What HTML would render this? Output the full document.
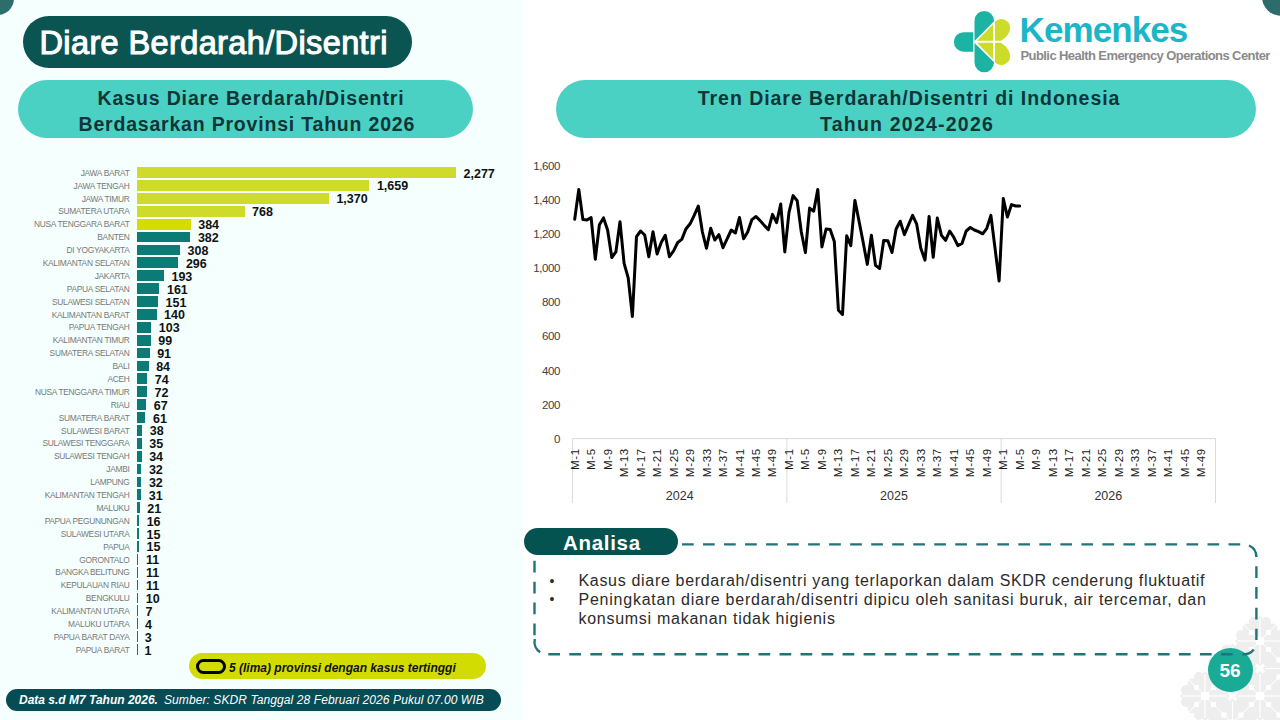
<!DOCTYPE html>
<html><head><meta charset="utf-8">
<style>
*{margin:0;padding:0;box-sizing:border-box}
html,body{width:1280px;height:720px;overflow:hidden;background:#fff;font-family:"Liberation Sans",sans-serif}
.abs{position:absolute}
#leftbg{position:absolute;left:0;top:0;width:525px;height:720px;background:linear-gradient(90deg,#f4fffe 0,#f4fffe 521px,#fff 525px)}
.pill{position:absolute;border-radius:40px}
.bl{position:absolute;left:0;width:129.5px;text-align:right;font-size:8.4px;color:#787878;height:10.8px;line-height:10.8px;letter-spacing:-0.3px;white-space:nowrap}
.bb{position:absolute;left:136.9px;height:10.8px}
.bv{position:absolute;font-size:12.5px;font-weight:bold;color:#111;height:10.8px;line-height:10.8px;white-space:nowrap}
.yl{position:absolute;left:520px;width:40px;text-align:right;font-size:11.5px;color:#404040;line-height:16px;letter-spacing:-0.4px}
.xl{position:absolute;top:488.2px;width:40px;height:14px;line-height:14px;text-align:right;font-size:11.5px;color:#1a1a1a;transform-origin:0 0;transform:rotate(-90deg) translateY(-7px);letter-spacing:0.75px}
.hd{position:absolute;font-size:19.5px;font-weight:bold;color:#0f3537;line-height:24px;white-space:nowrap}
.yr{position:absolute;top:487.5px;width:100px;text-align:center;font-size:12.5px;color:#333;line-height:16px}
</style></head><body>
<div id="leftbg"></div>
<!-- corner circles -->
<div class="abs" style="left:-19.5px;top:-18.5px;width:33px;height:33px;border-radius:50%;background:#2b6e6c"></div>
<div class="abs" style="left:1262px;top:-22px;width:40px;height:38px;border-radius:50%;background:#2d6c6a"></div>

<!-- title -->
<div class="pill" style="left:23px;top:16px;width:389px;height:52px;background:#0a5451;border-radius:26px"></div>
<div class="abs" style="left:39.5px;top:22.7px;font-size:32.5px;font-weight:normal;-webkit-text-stroke:1.1px #fff;color:#fff;line-height:40px;white-space:nowrap;letter-spacing:0.38px">Diare Berdarah/Disentri</div>

<!-- left subtitle pill -->
<div class="pill" style="left:18px;top:80px;width:455px;height:58px;background:#4bd1c4;border-radius:29px"></div>
<div class="hd" style="left:97.5px;top:86px;letter-spacing:0.87px">Kasus Diare Berdarah/Disentri</div>
<div class="hd" style="left:78.5px;top:112px;letter-spacing:0.8px">Berdasarkan Provinsi Tahun 2026</div>

<!-- right header pill -->
<div class="pill" style="left:556px;top:80px;width:700px;height:58px;background:#4bd1c4;border-radius:29px"></div>
<div class="hd" style="left:697.8px;top:86px;letter-spacing:0.95px">Tren Diare Berdarah/Disentri di Indonesia</div>
<div class="hd" style="left:820px;top:112px;letter-spacing:1.22px">Tahun 2024-2026</div>

<!-- logo -->
<svg class="abs" style="left:950px;top:8px" width="70" height="70" viewBox="950 8 70 70">
  <path d="M973.3 32.2 H963.6 A9.75 9.75 0 0 0 963.6 51.7 H973.3 Z" fill="#1cb3a3"/>
  <path d="M974.5 41 L974.5 20.7 A9.75 9.75 0 0 1 994 20.7 L994 21.3 Z" fill="#1cb3a3"/>
  <path d="M974.5 43 L974.5 62.5 A9.75 9.75 0 0 0 994 62.5 L994 62.2 Z" fill="#1cb3a3"/>
  <path d="M977 40.7 L993.2 24.3 L993.2 40.7 Z" fill="#cddb2b"/>
  <path d="M977 42.7 L993.2 59.2 L993.2 42.7 Z" fill="#cddb2b"/>
  <path d="M995 40.7 L995 21.5 A9 9 0 0 1 1010.2 28 Q1009.8 35.5 1001 40.7 Z" fill="#cddb2b"/>
  <path d="M995 42.7 L995 62.5 A9 9 0 0 0 1010.2 56 Q1009.8 48.5 1001 42.7 Z" fill="#cddb2b"/>
</svg>
<div class="abs" style="left:1019.5px;top:11px;font-size:35px;font-weight:bold;color:#1cb6c9;line-height:38px;letter-spacing:-0.9px">Kemenkes</div>
<div class="abs" style="left:1020.5px;top:47.7px;font-size:13px;font-weight:bold;color:#8a8a8a;line-height:16px;white-space:nowrap;letter-spacing:-0.58px">Public Health Emergency Operations Center</div>

<!-- bar chart -->
<div class="bl" style="top:167.80px">JAWA BARAT</div>
<div class="bb" style="top:167.20px;width:319.10px;background:#cfdb2a"></div>
<div class="bv" style="top:168.60px;left:463.50px">2,277</div>
<div class="bl" style="top:180.69px">JAWA TENGAH</div>
<div class="bb" style="top:180.09px;width:232.49px;background:#cfdb2a"></div>
<div class="bv" style="top:181.49px;left:376.89px">1,659</div>
<div class="bl" style="top:193.58px">JAWA TIMUR</div>
<div class="bb" style="top:192.98px;width:191.99px;background:#cfdb2a"></div>
<div class="bv" style="top:194.38px;left:336.39px">1,370</div>
<div class="bl" style="top:206.47px">SUMATERA UTARA</div>
<div class="bb" style="top:205.87px;width:107.63px;background:#cfdb2a"></div>
<div class="bv" style="top:207.27px;left:252.03px">768</div>
<div class="bl" style="top:219.36px">NUSA TENGGARA BARAT</div>
<div class="bb" style="top:218.76px;width:53.81px;background:#d3dc05"></div>
<div class="bv" style="top:220.16px;left:198.21px">384</div>
<div class="bl" style="top:232.25px">BANTEN</div>
<div class="bb" style="top:231.65px;width:53.53px;background:#0b7c75"></div>
<div class="bv" style="top:233.05px;left:197.93px">382</div>
<div class="bl" style="top:245.14px">DI YOGYAKARTA</div>
<div class="bb" style="top:244.54px;width:43.16px;background:#0b7c75"></div>
<div class="bv" style="top:245.94px;left:187.56px">308</div>
<div class="bl" style="top:258.03px">KALIMANTAN SELATAN</div>
<div class="bb" style="top:257.43px;width:41.48px;background:#0b7c75"></div>
<div class="bv" style="top:258.83px;left:185.88px">296</div>
<div class="bl" style="top:270.92px">JAKARTA</div>
<div class="bb" style="top:270.32px;width:27.05px;background:#0b7c75"></div>
<div class="bv" style="top:271.72px;left:171.45px">193</div>
<div class="bl" style="top:283.81px">PAPUA SELATAN</div>
<div class="bb" style="top:283.21px;width:22.56px;background:#0b7c75"></div>
<div class="bv" style="top:284.61px;left:166.96px">161</div>
<div class="bl" style="top:296.70px">SULAWESI SELATAN</div>
<div class="bb" style="top:296.10px;width:21.16px;background:#0b7c75"></div>
<div class="bv" style="top:297.50px;left:165.56px">151</div>
<div class="bl" style="top:309.59px">KALIMANTAN BARAT</div>
<div class="bb" style="top:308.99px;width:19.62px;background:#0b7c75"></div>
<div class="bv" style="top:310.39px;left:164.02px">140</div>
<div class="bl" style="top:322.48px">PAPUA TENGAH</div>
<div class="bb" style="top:321.88px;width:14.43px;background:#0b7c75"></div>
<div class="bv" style="top:323.28px;left:158.83px">103</div>
<div class="bl" style="top:335.37px">KALIMANTAN TIMUR</div>
<div class="bb" style="top:334.77px;width:13.87px;background:#0b7c75"></div>
<div class="bv" style="top:336.17px;left:158.27px">99</div>
<div class="bl" style="top:348.26px">SUMATERA SELATAN</div>
<div class="bb" style="top:347.66px;width:12.75px;background:#0b7c75"></div>
<div class="bv" style="top:349.06px;left:157.15px">91</div>
<div class="bl" style="top:361.15px">BALI</div>
<div class="bb" style="top:360.55px;width:11.77px;background:#0b7c75"></div>
<div class="bv" style="top:361.95px;left:156.17px">84</div>
<div class="bl" style="top:374.04px">ACEH</div>
<div class="bb" style="top:373.44px;width:10.37px;background:#0b7c75"></div>
<div class="bv" style="top:374.84px;left:154.77px">74</div>
<div class="bl" style="top:386.93px">NUSA TENGGARA TIMUR</div>
<div class="bb" style="top:386.33px;width:10.09px;background:#0b7c75"></div>
<div class="bv" style="top:387.73px;left:154.49px">72</div>
<div class="bl" style="top:399.82px">RIAU</div>
<div class="bb" style="top:399.22px;width:9.39px;background:#0b7c75"></div>
<div class="bv" style="top:400.62px;left:153.79px">67</div>
<div class="bl" style="top:412.71px">SUMATERA BARAT</div>
<div class="bb" style="top:412.11px;width:8.55px;background:#0b7c75"></div>
<div class="bv" style="top:413.51px;left:152.95px">61</div>
<div class="bl" style="top:425.60px">SULAWESI BARAT</div>
<div class="bb" style="top:425.00px;width:5.33px;background:#0b7c75"></div>
<div class="bv" style="top:426.40px;left:149.73px">38</div>
<div class="bl" style="top:438.49px">SULAWESI TENGGARA</div>
<div class="bb" style="top:437.89px;width:4.90px;background:#0b7c75"></div>
<div class="bv" style="top:439.29px;left:149.30px">35</div>
<div class="bl" style="top:451.38px">SULAWESI TENGAH</div>
<div class="bb" style="top:450.78px;width:4.76px;background:#0b7c75"></div>
<div class="bv" style="top:452.18px;left:149.16px">34</div>
<div class="bl" style="top:464.27px">JAMBI</div>
<div class="bb" style="top:463.67px;width:4.48px;background:#0b7c75"></div>
<div class="bv" style="top:465.07px;left:148.88px">32</div>
<div class="bl" style="top:477.16px">LAMPUNG</div>
<div class="bb" style="top:476.56px;width:4.48px;background:#0b7c75"></div>
<div class="bv" style="top:477.96px;left:148.88px">32</div>
<div class="bl" style="top:490.05px">KALIMANTAN TENGAH</div>
<div class="bb" style="top:489.45px;width:4.34px;background:#0b7c75"></div>
<div class="bv" style="top:490.85px;left:148.74px">31</div>
<div class="bl" style="top:502.94px">MALUKU</div>
<div class="bb" style="top:502.34px;width:2.94px;background:#0b7c75"></div>
<div class="bv" style="top:503.74px;left:147.34px">21</div>
<div class="bl" style="top:515.83px">PAPUA PEGUNUNGAN</div>
<div class="bb" style="top:515.23px;width:2.24px;background:#0b7c75"></div>
<div class="bv" style="top:516.63px;left:146.64px">16</div>
<div class="bl" style="top:528.72px">SULAWESI UTARA</div>
<div class="bb" style="top:528.12px;width:2.10px;background:#0b7c75"></div>
<div class="bv" style="top:529.52px;left:146.50px">15</div>
<div class="bl" style="top:541.61px">PAPUA</div>
<div class="bb" style="top:541.01px;width:2.10px;background:#0b7c75"></div>
<div class="bv" style="top:542.41px;left:146.50px">15</div>
<div class="bl" style="top:554.50px">GORONTALO</div>
<div class="bb" style="top:553.90px;width:1.54px;background:#0b7c75"></div>
<div class="bv" style="top:555.30px;left:145.94px">11</div>
<div class="bl" style="top:567.39px">BANGKA BELITUNG</div>
<div class="bb" style="top:566.79px;width:1.54px;background:#0b7c75"></div>
<div class="bv" style="top:568.19px;left:145.94px">11</div>
<div class="bl" style="top:580.28px">KEPULAUAN RIAU</div>
<div class="bb" style="top:579.68px;width:1.54px;background:#0b7c75"></div>
<div class="bv" style="top:581.08px;left:145.94px">11</div>
<div class="bl" style="top:593.17px">BENGKULU</div>
<div class="bb" style="top:592.57px;width:1.40px;background:#0b7c75"></div>
<div class="bv" style="top:593.97px;left:145.80px">10</div>
<div class="bl" style="top:606.06px">KALIMANTAN UTARA</div>
<div class="bb" style="top:605.46px;width:1.30px;background:#0b7c75"></div>
<div class="bv" style="top:606.86px;left:145.38px">7</div>
<div class="bl" style="top:618.95px">MALUKU UTARA</div>
<div class="bb" style="top:618.35px;width:1.30px;background:#0b7c75"></div>
<div class="bv" style="top:619.75px;left:144.96px">4</div>
<div class="bl" style="top:631.84px">PAPUA BARAT DAYA</div>
<div class="bb" style="top:631.24px;width:1.30px;background:#0b7c75"></div>
<div class="bv" style="top:632.64px;left:144.82px">3</div>
<div class="bl" style="top:644.73px">PAPUA BARAT</div>
<div class="bb" style="top:644.13px;width:1.30px;background:#0b7c75"></div>
<div class="bv" style="top:645.53px;left:144.54px">1</div>


<!-- legend -->
<div class="pill" style="left:189px;top:653px;width:297px;height:26px;background:#d2dc02;border-radius:13px"></div>
<div class="abs" style="left:196.2px;top:659px;width:29.7px;height:15px;border:3.1px solid #000;border-radius:7.5px"></div>
<div class="abs" style="left:229px;top:659.5px;font-size:12px;font-weight:bold;font-style:italic;color:#111;line-height:16px;white-space:nowrap">5 (lima) provinsi dengan kasus tertinggi</div>

<!-- footer -->
<div class="pill" style="left:6px;top:689px;width:495px;height:22px;background:#074b55;border-radius:11px"></div>
<div class="abs" style="left:19px;top:692px;font-size:12px;font-style:italic;color:#fff;line-height:16px;white-space:nowrap"><b>Data s.d M7 Tahun 2026.</b><span style="letter-spacing:0.09px;margin-left:6px">Sumber: SKDR Tanggal 28 Februari 2026 Pukul 07.00 WIB</span></div>

<!-- line chart -->
<div class="yl" style="top:157.70px">1,600</div>
<div class="yl" style="top:191.85px">1,400</div>
<div class="yl" style="top:226.00px">1,200</div>
<div class="yl" style="top:260.15px">1,000</div>
<div class="yl" style="top:294.30px">800</div>
<div class="yl" style="top:328.45px">600</div>
<div class="yl" style="top:362.60px">400</div>
<div class="yl" style="top:396.75px">200</div>
<div class="yl" style="top:430.90px">0</div>
<svg class="abs" style="left:0;top:0" width="1280" height="720">
  <line x1="572.6" y1="438.6" x2="1215.5" y2="438.6" stroke="#d9d9d9" stroke-width="1"/>
  <line x1="572.6" y1="438.6" x2="572.6" y2="503" stroke="#d9d9d9" stroke-width="1"/>
  <line x1="786.9" y1="438.6" x2="786.9" y2="503" stroke="#d9d9d9" stroke-width="1"/>
  <line x1="1001.2" y1="438.6" x2="1001.2" y2="503" stroke="#d9d9d9" stroke-width="1"/>
  <line x1="1215.5" y1="438.6" x2="1215.5" y2="503" stroke="#d9d9d9" stroke-width="1"/>
  <polyline points="574.7,219.2 578.8,189.4 582.9,219.6 587.0,220.0 591.1,217.5 595.3,259.2 599.4,224.8 603.5,217.9 607.6,230.0 611.8,257.5 615.9,251.9 620.0,221.7 624.1,263.3 628.2,277.9 632.4,316.5 636.5,236.7 640.6,231.0 644.7,235.0 648.8,256.7 653.0,231.7 657.1,254.0 661.2,242.5 665.3,235.2 669.4,256.7 673.6,250.8 677.7,242.5 681.8,239.4 685.9,229.0 690.1,223.8 694.2,215.4 698.3,206.0 702.4,232.0 706.5,248.3 710.7,228.3 714.8,240.0 718.9,234.6 723.0,247.7 727.1,238.8 731.3,230.0 735.4,233.0 739.5,217.5 743.6,238.8 747.7,232.0 751.9,219.6 756.0,216.5 760.1,220.6 764.2,225.4 768.4,229.6 772.5,214.4 776.6,222.7 780.7,204.0 784.8,251.9 789.0,212.3 793.1,195.6 797.2,200.8 801.3,232.0 805.4,252.5 809.6,208.1 813.7,211.2 817.8,189.4 821.9,247.0 826.1,229.0 830.2,229.6 834.3,241.5 838.4,310.2 842.5,314.4 846.7,235.8 850.8,245.6 854.9,200.4 859.0,221.0 863.1,242.0 867.3,264.4 871.4,235.2 875.5,265.4 879.6,268.5 883.7,240.4 887.9,240.8 892.0,252.5 896.1,229.0 900.2,221.2 904.4,234.6 908.5,224.8 912.6,215.4 916.7,224.2 920.8,248.3 925.0,260.2 929.1,216.5 933.2,257.3 937.3,218.1 941.4,235.2 945.6,240.4 949.7,231.0 953.8,237.3 957.9,245.6 962.0,243.5 966.2,231.0 970.3,227.5 974.4,230.0 978.5,231.7 982.7,233.8 986.8,228.3 990.9,215.4 995.0,248.0 999.1,281.0 1003.3,198.5 1007.4,217.0 1011.5,204.6 1015.6,206.0 1019.7,206.0" fill="none" stroke="#000" stroke-width="3" stroke-linejoin="round" stroke-linecap="round"/>
</svg>
<div class="xl" style="left:574.66px">M-1</div>
<div class="xl" style="left:591.15px">M-5</div>
<div class="xl" style="left:607.63px">M-9</div>
<div class="xl" style="left:624.11px">M-13</div>
<div class="xl" style="left:640.60px">M-17</div>
<div class="xl" style="left:657.08px">M-21</div>
<div class="xl" style="left:673.57px">M-25</div>
<div class="xl" style="left:690.05px">M-29</div>
<div class="xl" style="left:706.54px">M-33</div>
<div class="xl" style="left:723.02px">M-37</div>
<div class="xl" style="left:739.51px">M-41</div>
<div class="xl" style="left:755.99px">M-45</div>
<div class="xl" style="left:772.48px">M-49</div>
<div class="xl" style="left:788.96px">M-1</div>
<div class="xl" style="left:805.45px">M-5</div>
<div class="xl" style="left:821.93px">M-9</div>
<div class="xl" style="left:838.41px">M-13</div>
<div class="xl" style="left:854.90px">M-17</div>
<div class="xl" style="left:871.38px">M-21</div>
<div class="xl" style="left:887.87px">M-25</div>
<div class="xl" style="left:904.35px">M-29</div>
<div class="xl" style="left:920.84px">M-33</div>
<div class="xl" style="left:937.32px">M-37</div>
<div class="xl" style="left:953.81px">M-41</div>
<div class="xl" style="left:970.29px">M-45</div>
<div class="xl" style="left:986.78px">M-49</div>
<div class="xl" style="left:1003.26px">M-1</div>
<div class="xl" style="left:1019.75px">M-5</div>
<div class="xl" style="left:1036.23px">M-9</div>
<div class="xl" style="left:1052.71px">M-13</div>
<div class="xl" style="left:1069.20px">M-17</div>
<div class="xl" style="left:1085.68px">M-21</div>
<div class="xl" style="left:1102.17px">M-25</div>
<div class="xl" style="left:1118.65px">M-29</div>
<div class="xl" style="left:1135.14px">M-33</div>
<div class="xl" style="left:1151.62px">M-37</div>
<div class="xl" style="left:1168.11px">M-41</div>
<div class="xl" style="left:1184.59px">M-45</div>
<div class="xl" style="left:1201.08px">M-49</div>
<div class="yr" style="left:629.7px">2024</div>
<div class="yr" style="left:844px">2025</div>
<div class="yr" style="left:1058.3px">2026</div>

<!-- pattern bottom-right -->
<svg class="abs" style="left:0;top:0" width="1280" height="720">
  <defs>
    <g id="motif">
      <g fill="#eeeeee">
        <path d="M0 -25 L25 0 L0 25 L-25 0 Z"/>
        <circle cx="-6" cy="-19" r="5"/><circle cx="6" cy="-19" r="5"/>
        <circle cx="-6" cy="19" r="5"/><circle cx="6" cy="19" r="5"/>
        <circle cx="-19" cy="-6" r="5"/><circle cx="-19" cy="6" r="5"/>
        <circle cx="19" cy="-6" r="5"/><circle cx="19" cy="6" r="5"/>
        <circle cx="-12.5" cy="-12.5" r="5"/><circle cx="12.5" cy="-12.5" r="5"/>
        <circle cx="-12.5" cy="12.5" r="5"/><circle cx="12.5" cy="12.5" r="5"/>
      </g>
      <g fill="#ffffff">
        <rect x="-4" y="-4" width="8" height="8"/>
        <rect x="-11" y="-11" width="5" height="5"/><rect x="6" y="-11" width="5" height="5"/>
        <rect x="-11" y="6" width="5" height="5"/><rect x="6" y="6" width="5" height="5"/>
        <rect x="-0.6" y="-22" width="1.2" height="44"/><rect x="-22" y="-0.6" width="44" height="1.2"/>
        <path d="M-17 -17 L17 17" stroke="#fff" stroke-width="1"/><path d="M17 -17 L-17 17" stroke="#fff" stroke-width="1"/>
      </g>
    </g>
  </defs>
  <use href="#motif" x="1205" y="696"/>
  <use href="#motif" x="1232.5" y="668.5"/>
  <use href="#motif" x="1260" y="641"/>
  <use href="#motif" x="1260" y="696"/>
  <use href="#motif" x="1287.5" y="668.5"/>
  <use href="#motif" x="1232.5" y="723.5"/>
  <use href="#motif" x="1287.5" y="723.5"/>
</svg>

<!-- page num -->
<div class="abs" style="left:1207.5px;top:648px;width:45px;height:44px;border-radius:50%;background:#1aab97;color:#fff;font-weight:bold;font-size:19px;text-align:center;line-height:46px">56</div>
<!-- analisa -->
<svg class="abs" style="left:0;top:0" width="1280" height="720">
 <g fill="none" stroke="#21737a" stroke-width="2.4">
  <path d="M682 544.4 H1240.3" stroke-dasharray="11.7 9.32"/>
  <path d="M1248.98 545.48 A12.5 12.5 0 0 1 1256.40 556.90"/>
  <path d="M1256.4 566.25 V640" stroke-dasharray="11.7 9.1"/>
  <path d="M1253.75 649.50 A12.5 12.5 0 0 1 1242.59 654.23"/>
  <path d="M548.3 654.3 H1232.6" stroke-dasharray="11.7 9.32"/>
  <path d="M534.82 638.99 A12.5 12.5 0 0 0 540.19 652.28"/>
  <path d="M534.5 560.8 V636" stroke-dasharray="11.7 9.2"/>
 </g>
</svg>
<div class="pill" style="left:524px;top:528px;width:154px;height:27px;background:#055351;border-radius:14px"></div>
<div class="abs" style="left:563px;top:530.5px;font-size:20.5px;font-weight:bold;color:#fff;line-height:24px;letter-spacing:0.7px">Analisa</div>
<div class="abs" style="left:547.5px;top:570.6px;font-size:16px;color:#2b2b2b;line-height:19px;white-space:nowrap">
  <div style="position:absolute;left:2px;top:1px;font-size:14px">•</div><div style="position:absolute;left:31px;top:0;letter-spacing:0.68px">Kasus diare berdarah/disentri yang terlaporkan dalam SKDR cenderung fluktuatif</div>
  <div style="position:absolute;left:2px;top:19.8px;font-size:14px">•</div><div style="position:absolute;left:31px;top:19px;letter-spacing:0.76px">Peningkatan diare berdarah/disentri dipicu oleh sanitasi buruk, air tercemar, dan</div>
  <div style="position:absolute;left:31px;top:38px;letter-spacing:0.72px">konsumsi makanan tidak higienis</div>
</div>

</body></html>
